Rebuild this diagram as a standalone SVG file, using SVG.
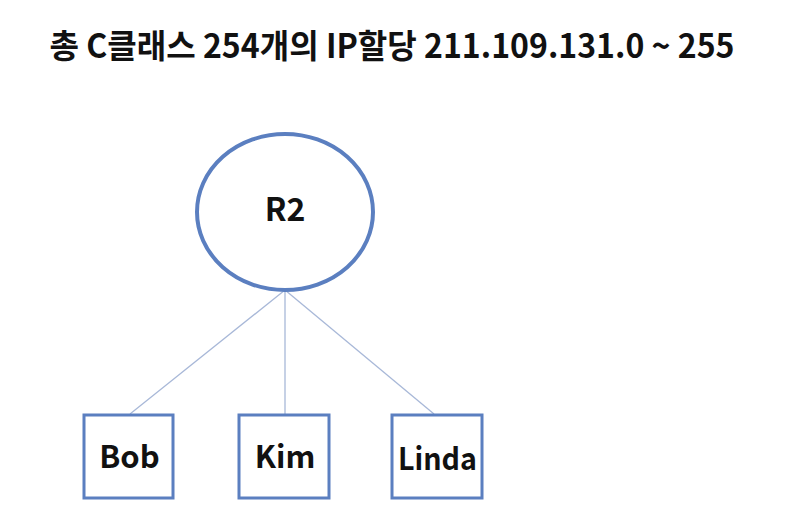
<svg xmlns="http://www.w3.org/2000/svg" width="811" height="523" viewBox="0 0 811 523">
<style>
.t{font-family:"Noto Sans CJK KR","Noto Sans",sans-serif;font-weight:bold;fill:#111;text-anchor:middle}
.node{fill:#fff;stroke:#5b7fc0}
.c{stroke:#a8b8d8;stroke-width:1.3;fill:none}
</style>
<rect width="811" height="523" fill="#fff"/>
<text class="t" x="392" y="58" font-size="33" textLength="685" lengthAdjust="spacingAndGlyphs">총 C클래스 254개의 IP할당 211.109.131.0 ~ 255</text>
<g id="connectors">
<line class="c" x1="285" y1="290" x2="130" y2="414"/>
<line class="c" x1="285" y1="290" x2="285" y2="414"/>
<line class="c" x1="285" y1="290" x2="434" y2="414"/>
</g>
<g id="R2">
<ellipse class="node" cx="285" cy="212" rx="88" ry="78" stroke-width="4"/>
<text class="t" x="285" y="221" font-size="32">R2</text>
</g>
<g id="Bob">
<rect class="node" x="84" y="415" width="89" height="83" stroke-width="3"/>
<text class="t" x="129.5" y="468" font-size="31">Bob</text>
</g>
<g id="Kim">
<rect class="node" x="239" y="415" width="90" height="83" stroke-width="3"/>
<text class="t" x="285" y="468" font-size="31">Kim</text>
</g>
<g id="Linda">
<rect class="node" x="392" y="415" width="90" height="83" stroke-width="3"/>
<text class="t" x="437.5" y="470" font-size="31" textLength="79" lengthAdjust="spacingAndGlyphs">Linda</text>
</g>
</svg>
